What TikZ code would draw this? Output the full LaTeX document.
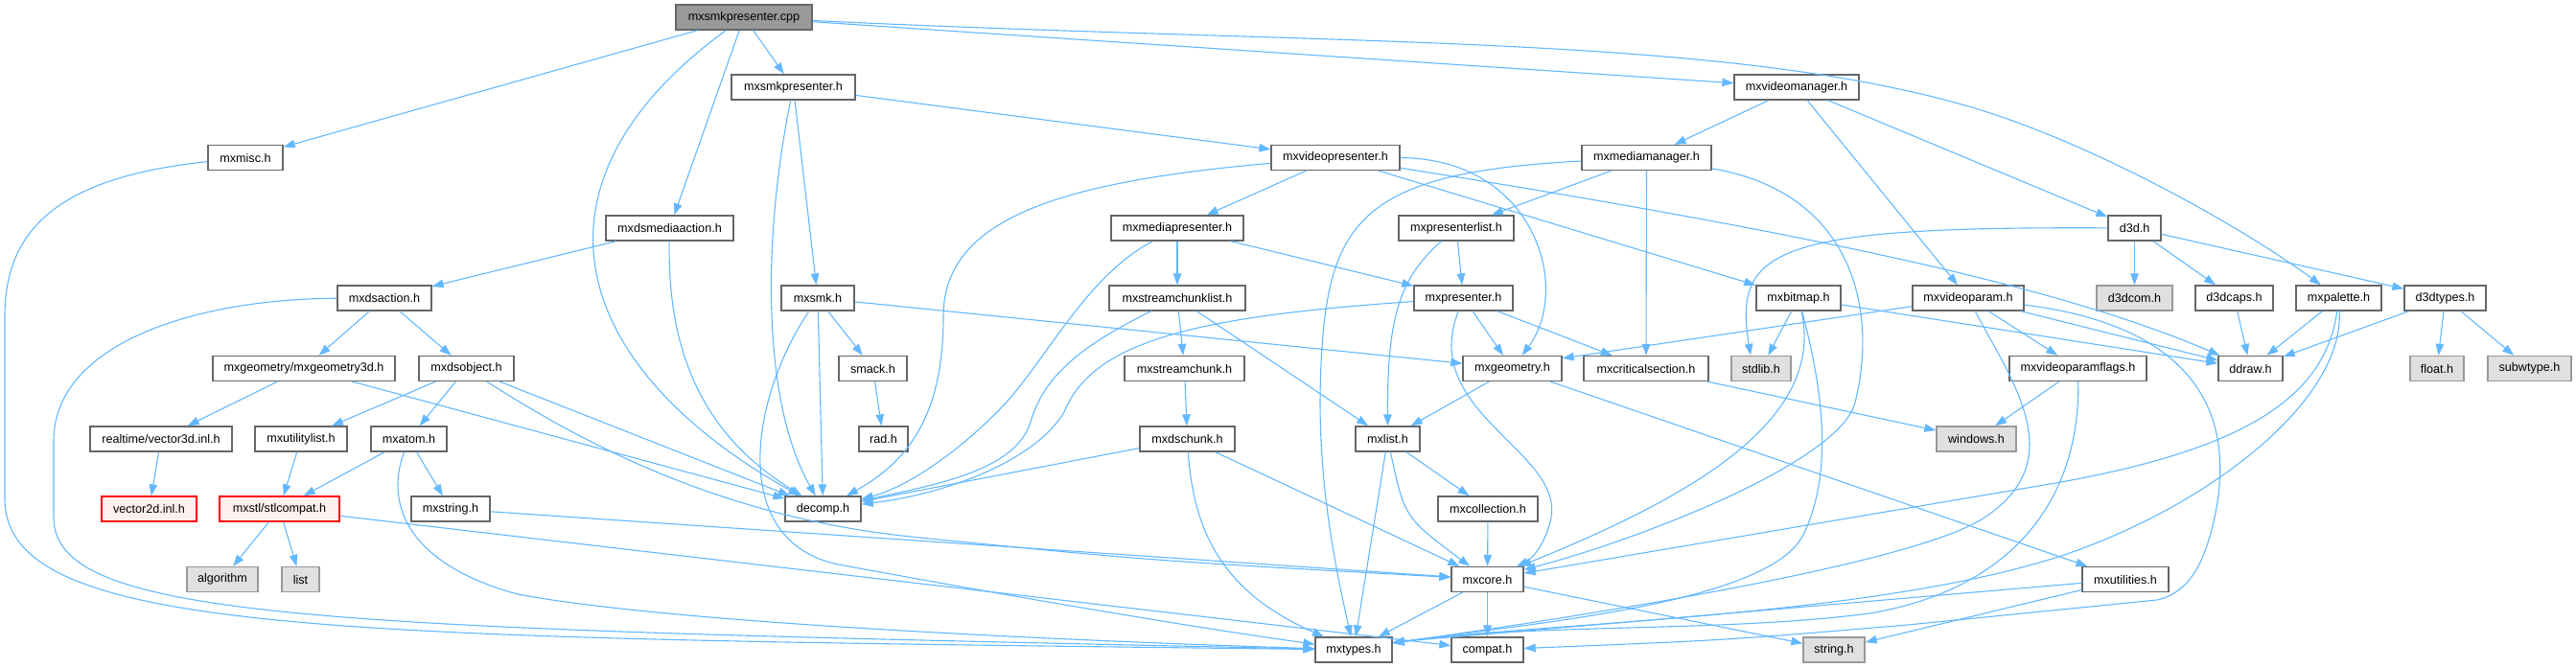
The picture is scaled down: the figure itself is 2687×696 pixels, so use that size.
\documentclass[tikz,border=0pt]{standalone}
\usepackage{fontspec}
\setmainfont{Liberation Sans}
\usetikzlibrary{arrows.meta}
\definecolor{edgec}{HTML}{63B8FF}
\definecolor{nodeb}{HTML}{666666}
\definecolor{rootf}{HTML}{999999}
\definecolor{extf}{HTML}{E0E0E0}
\definecolor{extb}{HTML}{999999}
\definecolor{redf}{HTML}{FFF0F0}
\tikzset{
  box/.style={draw=nodeb, fill=white, line width=1.3pt, inner sep=0pt, minimum height=26pt, font=\fontsize{12.6}{14}\selectfont},
  rootbox/.style={box, fill=rootf},
  extbox/.style={box, draw=extb, fill=extf},
  redbox/.style={box, draw=red, fill=redf},
  edge/.style={draw=edgec, line width=1.1pt, -{Triangle[length=12pt,width=8.5pt]}}
}
\begin{document}
\begin{tikzpicture}[x=1pt,y=-1pt]
\useasboundingbox (0,0) rectangle (2687,696);
% row 0
\node[rootbox, minimum width=142pt] (cpp) at (776,18) {mxsmkpresenter.cpp};
% row 1
\node[box, minimum width=129pt] (smkph) at (827.5,91) {mxsmkpresenter.h};
\node[box, minimum width=130pt] (vmgr) at (1874,91) {mxvideomanager.h};
% row 2
\node[box, minimum width=78pt] (misc) at (256,164.5) {mxmisc.h};
\node[box, minimum width=134pt] (vpres) at (1393,164.5) {mxvideopresenter.h};
\node[box, minimum width=135pt] (mmgr) at (1717.5,164.5) {mxmediamanager.h};
% row 3
\node[box, minimum width=133pt] (dsma) at (698.5,238) {mxdsmediaaction.h};
\node[box, minimum width=138pt] (mpres) at (1228,238) {mxmediapresenter.h};
\node[box, minimum width=120pt] (plist) at (1519,238) {mxpresenterlist.h};
\node[box, minimum width=55pt] (dthreed) at (2226.5,238) {d3d.h};
% row 4
\node[box, minimum width=98pt] (dsact) at (401,311) {mxdsaction.h};
\node[box, minimum width=76pt] (smk) at (853,311) {mxsmk.h};
\node[box, minimum width=142pt] (sclist) at (1228,311) {mxstreamchunklist.h};
\node[box, minimum width=103pt] (pres) at (1526.5,311) {mxpresenter.h};
\node[box, minimum width=88pt] (bitmap) at (1876,311) {mxbitmap.h};
\node[box, minimum width=116pt] (vparam) at (2053,311) {mxvideoparam.h};
\node[extbox, minimum width=79pt] (dcom) at (2226.5,311) {d3dcom.h};
\node[box, minimum width=81pt] (dcaps) at (2330.5,311) {d3dcaps.h};
\node[box, minimum width=89pt] (palette) at (2439.5,311) {mxpalette.h};
\node[box, minimum width=85pt] (dtypes) at (2550.5,311) {d3dtypes.h};
% row 5
\node[box, minimum width=190pt] (geo3d) at (317,384.5) {mxgeometry/mxgeometry3d.h};
\node[box, minimum width=99pt] (dsobj) at (486.5,384.5) {mxdsobject.h};
\node[box, minimum width=71pt] (smack) at (910.5,384.5) {smack.h};
\node[box, minimum width=125pt] (schunk) at (1235.5,384.5) {mxstreamchunk.h};
\node[box, minimum width=103pt] (geom) at (1577.5,384.5) {mxgeometry.h};
\node[box, minimum width=130pt] (crit) at (1717,384.5) {mxcriticalsection.h};
\node[extbox, minimum width=62pt] (stdlib) at (1837,384.5) {stdlib.h};
\node[box, minimum width=143pt] (vpflags) at (2167.5,384.5) {mxvideoparamflags.h};
\node[box, minimum width=67pt] (ddraw) at (2347.5,384.5) {ddraw.h};
\node[extbox, minimum width=56pt] (floath) at (2542,384.5) {float.h};
\node[extbox, minimum width=87pt] (subw) at (2638.5,384.5) {subwtype.h};
% row 6
\node[box, minimum width=148pt] (vec3) at (168,458) {realtime/vector3d.inl.h};
\node[box, minimum width=96pt] (ulist) at (314,458) {mxutilitylist.h};
\node[box, minimum width=79pt] (atom) at (426.5,458) {mxatom.h};
\node[box, minimum width=51pt] (rad) at (921.5,458) {rad.h};
\node[box, minimum width=99pt] (dschunk) at (1238.5,458) {mxdschunk.h};
\node[box, minimum width=67pt] (mxlist) at (1447.5,458) {mxlist.h};
\node[extbox, minimum width=83pt] (windows) at (2061.5,458) {windows.h};
% row 7
\node[redbox, minimum width=99pt] (vec2) at (155.5,531) {vector2d.inl.h};
\node[redbox, minimum width=125pt] (stl) at (291.5,531) {mxstl/stlcompat.h};
\node[box, minimum width=82pt] (mxstr) at (470,531) {mxstring.h};
\node[box, minimum width=79pt] (decomp) at (858.5,531) {decomp.h};
\node[box, minimum width=104pt] (coll) at (1552,531) {mxcollection.h};
% row 8
\node[extbox, minimum width=74pt] (algo) at (232,604.5) {algorithm};
\node[extbox, minimum width=39pt] (listh) at (313.5,604.5) {list};
\node[box, minimum width=75pt] (core) at (1551.5,604.5) {mxcore.h};
\node[box, minimum width=90pt] (util) at (2217,604.5) {mxutilities.h};
% row 9
\node[box, minimum width=80pt] (types) at (1412,678) {mxtypes.h};
\node[box, minimum width=75pt] (compat) at (1551.5,678) {compat.h};
\node[extbox, minimum width=64pt] (strh) at (1913,678) {string.h};

% ---- edges ----
\draw[edge] (cpp) -- (misc);
\draw[edge] (cpp) .. controls (540,190) and (590,380) .. (decomp);
\draw[edge] (cpp) -- (dsma);
\draw[edge] (cpp) -- (smkph);
\draw[edge] (cpp) -- (vmgr);
\draw[edge] (cpp) .. controls (1400,48) and (1800,35) .. (2060,113) .. controls (2180,149) and (2333,233) .. (palette);

\draw[edge] (smkph) -- (vpres);
\draw[edge] (smkph) .. controls (795,250) and (795,420) .. (decomp);
\draw[edge] (smkph) -- (smk);

\draw[edge] (misc) .. controls (60,185) and (5,240) .. (5,330) -- (5,520) .. controls (5,665) and (350,665) .. (types);

\draw[edge] (dsma) -- (dsact);
\draw[edge] (dsma) .. controls (695,400) and (760,470) .. (decomp);

\draw[edge] (dsact) -- (geo3d);
\draw[edge] (dsact) -- (dsobj);
\draw[edge] (dsact) .. controls (200,312) and (56,360) .. (56,460) -- (56,540) .. controls (56,650) and (350,655) .. (types);

\draw[edge] (geo3d) -- (vec3);
\draw[edge] (geo3d) -- (decomp);

\draw[edge] (dsobj) -- (ulist);
\draw[edge] (dsobj) -- (atom);
\draw[edge] (dsobj) -- (decomp);
\draw[edge] (dsobj) .. controls (620,470) and (760,540) .. (950,560) .. controls (1200,585) .. (core);

\draw[edge] (vec3) -- (vec2);
\draw[edge] (ulist) -- (stl);
\draw[edge] (atom) -- (stl);
\draw[edge] (atom) -- (mxstr);
\draw[edge] (atom) .. controls (400,530) and (430,590) .. (540,620) .. controls (700,650) and (1100,668) .. (types);

\draw[edge] (stl) -- (algo);
\draw[edge] (stl) -- (listh);
\draw[edge] (stl) -- (compat);
\draw[edge] (mxstr) -- (core);

\draw[edge] (smk) -- (decomp);
\draw[edge] (smk) -- (smack);
\draw[edge] (smk) -- (geom);
\draw[edge] (smk) .. controls (780,420) and (760,570) .. (880,590) .. controls (1000,612) and (1200,648) .. (types);
\draw[edge] (smack) -- (rad);

\draw[edge] (vpres) .. controls (1100,190) and (984,230) .. (984,330) .. controls (984,430) and (950,480) .. (decomp);
\draw[edge] (vpres) -- (mpres);
\draw[edge] (vpres) .. controls (1600,165) and (1640,300) .. (geom);
\draw[edge] (vpres) -- (bitmap);
\draw[edge] (vpres) .. controls (1900,245) and (2150,300) .. (ddraw);

\draw[edge] (mpres) .. controls (1130,290) and (1090,380) .. (1040,430) .. controls (990,480) and (940,510) .. (decomp);
\draw[edge] (mpres) -- (sclist);
\draw[edge] (mpres) -- (pres);

\draw[edge] (sclist) .. controls (1130,360) and (1090,390) .. (1075,440) .. controls (1060,490) and (980,505) .. (decomp);
\draw[edge] (sclist) -- (schunk);
\draw[edge] (sclist) -- (mxlist);
\draw[edge] (schunk) -- (dschunk);
\draw[edge] (dschunk) -- (decomp);
\draw[edge] (dschunk) -- (core);
\draw[edge] (dschunk) .. controls (1245,560) and (1280,620) .. (types);

\draw[edge] (vmgr) -- (mmgr);
\draw[edge] (vmgr) -- (vparam);
\draw[edge] (vmgr) -- (dthreed);

\draw[edge] (mmgr) -- (plist);
\draw[edge] (mmgr) -- (crit);
\draw[edge] (mmgr) .. controls (1420,180) and (1385,230) .. (1378,380) .. controls (1372,500) and (1395,600) .. (types);
\draw[edge] (mmgr) .. controls (1930,200) and (1960,320) .. (1935,420) .. controls (1920,480) and (1720,560) .. (core);

\draw[edge] (plist) .. controls (1460,290) and (1447,330) .. (mxlist);
\draw[edge] (plist) -- (pres);

\draw[edge] (pres) .. controls (1250,330) and (1140,355) .. (1110,430) .. controls (1080,480) and (990,515) .. (decomp);
\draw[edge] (pres) -- (geom);
\draw[edge] (pres) -- (crit);
\draw[edge] (pres) .. controls (1480,430) and (1630,470) .. (1618,540) .. controls (1612,570) and (1595,585) .. (core);

\draw[edge] (bitmap) -- (stdlib);
\draw[edge] (bitmap) .. controls (1905,440) and (1760,520) .. (core);
\draw[edge] (bitmap) .. controls (1905,420) and (1910,500) .. (1880,560) .. controls (1840,630) and (1600,650) .. ([yshift=7pt]types.east);
\draw[edge] (bitmap) -- (ddraw);

\draw[edge] (dthreed) .. controls (1850,236) and (1808,260) .. ([xshift=-11pt]stdlib.north);
\draw[edge] (dthreed) -- (dcom);
\draw[edge] (dthreed) -- (dcaps);
\draw[edge] (dthreed) -- (dtypes);
\draw[edge] (dcaps) -- (ddraw);
\draw[edge] (dtypes) -- (ddraw);
\draw[edge] (dtypes) -- (floath);
\draw[edge] (dtypes) -- (subw);

\draw[edge] (palette) -- (ddraw);
\draw[edge] (palette) .. controls (2425,420) and (2330,470) .. (2150,503) -- (core);
\draw[edge] (palette) .. controls (2445,420) and (2300,530) .. (2150,580) .. controls (1950,645) and (1600,650) .. ([yshift=7pt]types.east);

\draw[edge] (vparam) -- ([yshift=-3pt]geom.north east);
\draw[edge] (vparam) -- (vpflags);
\draw[edge] (vparam) -- (ddraw);
\draw[edge] (vparam) .. controls (2100,400) and (2160,480) .. (2070,540) .. controls (1990,593) and (1600,650) .. ([yshift=7pt]types.east);
\draw[edge] (vparam) .. controls (2250,335) and (2340,400) .. (2310,540) .. controls (2300,585) and (2285,618) .. (2250,626) -- (1990,652) .. controls (1800,668) .. (compat);

\draw[edge] (vpflags) -- (windows);
\draw[edge] (vpflags) .. controls (2170,520) and (2100,615) .. (1950,640) .. controls (1800,660) and (1600,650) .. ([yshift=7pt]types.east);

\draw[edge] (crit) -- (windows);
\draw[edge] (geom) -- (mxlist);
\draw[edge] (geom) -- (util);

\draw[edge] (mxlist) -- (coll);
\draw[edge] (mxlist) .. controls (1465,540) .. (core);
\draw[edge] (mxlist) -- (types);
\draw[edge] (coll) -- (core);

\draw[edge] (core) -- (types);
\draw[edge] (core) -- (compat);
\draw[edge] (core) -- (strh);

\draw[edge] (util) -- ([yshift=8pt]types.east);
\draw[edge] (util) -- (strh);
\end{tikzpicture}
\end{document}
